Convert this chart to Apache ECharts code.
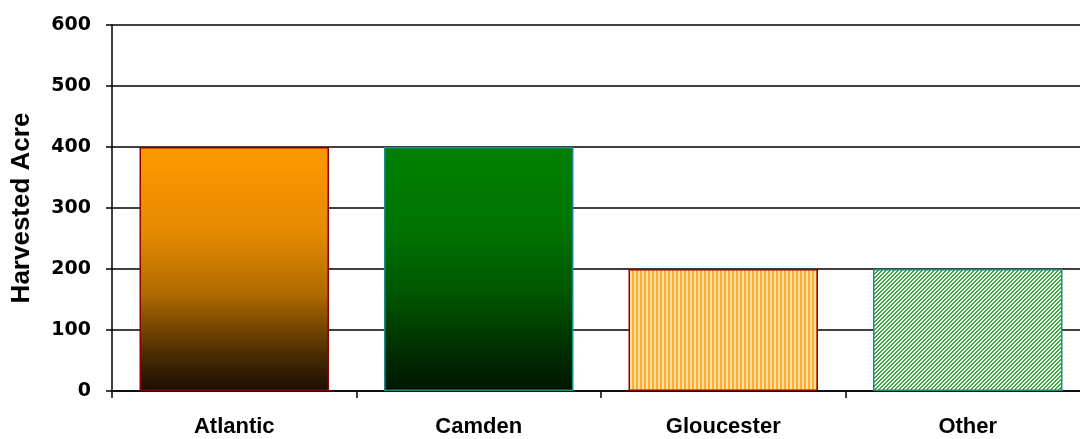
<!DOCTYPE html>
<html>
<head>
<meta charset="utf-8">
<script src="https://cdn.jsdelivr.net/npm/echarts@6/dist/echarts.min.js"></script>
<style>
  html, body { margin: 0; padding: 0; background: #fff; }
  #chart { width: 1080px; height: 439px; }
</style>
</head>
<body>
<div id="chart"></div>
<script>
// Harvested acreage by county
const counties = ['Atlantic', 'Camden', 'Gloucester', 'Other'];
const acres = [400, 400, 200, 200];
const yTicks = [0, 100, 200, 300, 400, 500, 600];

// Small repeating tiles used as bar fills
function stripeTile() {
  const c = document.createElement('canvas');
  c.width = 4; c.height = 4;
  const g = c.getContext('2d');
  g.fillStyle = '#FFDF9E'; g.fillRect(0, 0, 4, 4);
  g.fillStyle = '#FFAC33'; g.fillRect(0, 0, 2, 4);
  return c;
}
function hatchTile() {
  const c = document.createElement('canvas');
  c.width = 4; c.height = 4;
  const g = c.getContext('2d');
  g.fillStyle = '#ffffff'; g.fillRect(0, 0, 4, 4);
  g.fillStyle = '#3DAA3D';
  for (let i = 0; i < 4; i++) {
    g.fillRect(i, 3 - i, 1, 1);
    g.fillRect((i + 1) % 4, 3 - i, 1, 1);
  }
  return c;
}

const fills = [
  { color: new echarts.graphic.LinearGradient(0, 0, 0, 1, [
      { offset: 0, color: '#FF9900' },
      { offset: 0.35, color: '#E58A00' },
      { offset: 0.6, color: '#B06A00' },
      { offset: 0.85, color: '#4A2C00' },
      { offset: 1, color: '#1A0E00' }
    ]), border: '#8B0000' },
  { color: new echarts.graphic.LinearGradient(0, 0, 0, 1, [
      { offset: 0, color: '#008000' },
      { offset: 0.35, color: '#007200' },
      { offset: 0.6, color: '#005600' },
      { offset: 0.85, color: '#002C00' },
      { offset: 1, color: '#001600' }
    ]), border: '#1F8A8A' },
  { color: { image: stripeTile(), repeat: 'repeat' }, border: '#8B0000' },
  { color: { image: hatchTile(), repeat: 'repeat' }, border: '#1F8A8A' }
];

const chart = echarts.init(document.getElementById('chart'));
const font = 'Liberation Sans, Arial, sans-serif';

chart.setOption({
  animation: false,
  grid: { left: 112, top: 25, width: 978, height: 366, outerBoundsMode: 'none', containLabel: false },
  xAxis: {
    type: 'category',
    data: counties,
    axisLine: { lineStyle: { color: '#000', width: 1.5 } },
    axisTick: { show: true, length: 7, lineStyle: { color: '#000', width: 1.5 } },
    axisLabel: { color: '#000', fontFamily: font, fontWeight: 'bold', fontSize: 22, margin: 25 },
    splitLine: { show: false }
  },
  yAxis: {
    type: 'value',
    min: yTicks[0],
    max: yTicks[yTicks.length - 1],
    interval: 100,
    name: 'Harvested Acre',
    nameLocation: 'middle',
    nameGap: 77,
    nameTextStyle: { color: '#000', fontFamily: font, fontWeight: 'bold', fontSize: 26 },
    axisLine: { show: true, lineStyle: { color: '#000', width: 1.5 } },
    axisTick: { show: true, length: 6, lineStyle: { color: '#000', width: 1.5 } },
    axisLabel: { color: '#000', fontFamily: 'DejaVu Sans, sans-serif', fontWeight: 'bold', fontSize: 19, margin: 21 },
    splitLine: { show: true, lineStyle: { color: '#000', width: 1.5 } }
  },
  series: [{
    type: 'bar',
    barWidth: '77.5%',
    data: acres.map((v, i) => ({
      value: v,
      itemStyle: { color: fills[i].color, borderColor: fills[i].border, borderWidth: 1.5 }
    }))
  }]
});
</script>
</body>
</html>
